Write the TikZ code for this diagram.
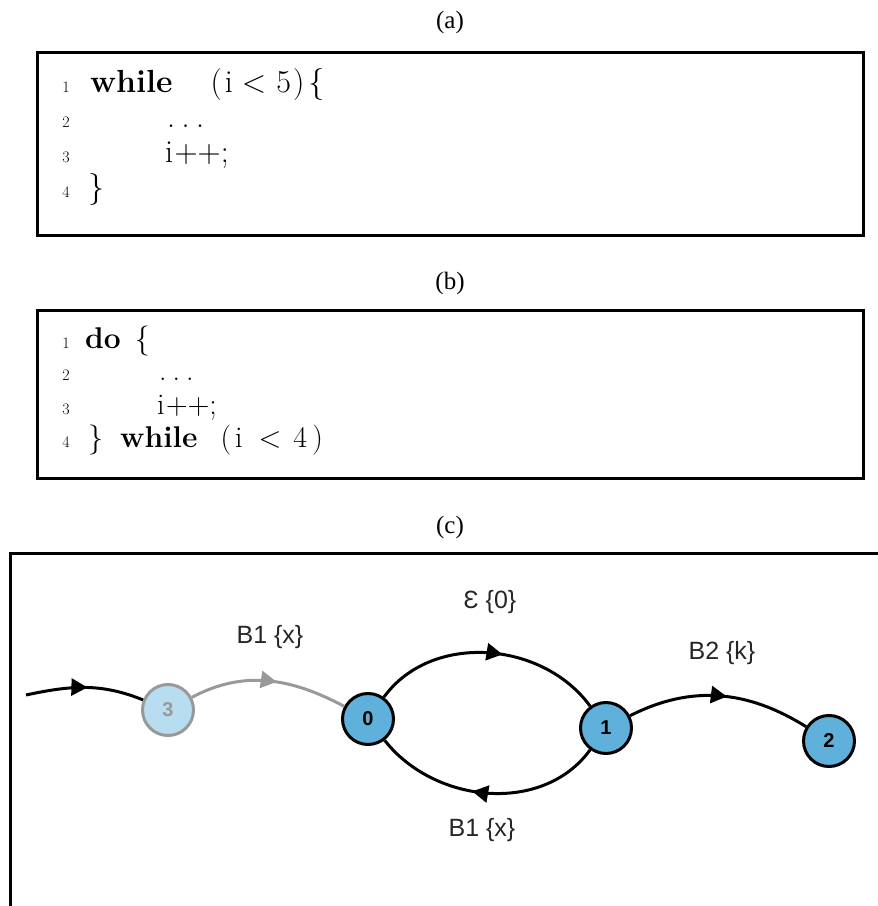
\documentclass[tikz,border=0pt]{standalone}
\usepackage{fontspec}
\newfontfamily\capfont{Liberation Serif}
\newfontfamily\lblfont{Liberation Sans}
\usetikzlibrary{arrows.meta, positioning, decorations.markings}
\definecolor{nodeblue}{HTML}{5FB0DA}
\definecolor{ghostblue}{HTML}{B8DDF0}
\definecolor{ghostgray}{HTML}{999999}

\begin{document}
\begin{tikzpicture}[x=1pt, y=1pt,
  capt/.style={font=\capfont\fontsize{25}{29}\selectfont},
  codebox/.style={draw, line width=3pt},
  codeline/.style={anchor=base west, inner sep=0pt, font=\fontsize{32}{38}\selectfont},
  codelineb/.style={anchor=base west, inner sep=0pt, font=\fontsize{30}{36}\selectfont},
  lineno/.style={anchor=base east, inner sep=0pt, font=\fontsize{16}{18}\selectfont},
  statenode/.style={circle, draw, line width=3pt, fill=nodeblue, minimum size=51pt, inner sep=0pt, font=\lblfont\bfseries\fontsize{20}{22}\selectfont},
  ghostnode/.style={statenode, draw=ghostgray, fill=ghostblue, text=ghostgray, font=\lblfont\bfseries\fontsize{20}{22}\selectfont},
  trans/.style={line width=3pt, postaction={decorate}, decoration={markings, mark=at position #1 with {\arrow{Triangle[length=16pt,width=17pt]}}}},
  trans/.default=0.5,
  lbl/.style={font=\lblfont\fontsize{25}{28}\selectfont, text=black!85}]
\useasboundingbox (0,0) rectangle (878,906);

% (a) while loop
\node[capt] (capa) at (450,884) {(a)};
\draw[codebox] (37,670) rectangle (863,853);
\node[lineno] (na1) at (70,813) {1};
\node[codeline] (ca1) at (90,813) {\textbf{while}\hspace{38pt}(\hspace{3pt}i\hspace{9pt}<\hspace{10pt}5\hspace{2pt})\hspace{4pt}\{};
\node[lineno] (na2) at (70,778) {2};
\node[codeline] (ca2) at (167,778) {.\hspace{6.5pt}.\hspace{6.5pt}.};
\node[lineno] (na3) at (70,743) {3};
\node[codeline] (ca3) at (165,743) {i\hspace{1.5pt}++;};
\node[lineno] (na4) at (70,708) {4};
\node[codeline] (ca4) at (88,708) {\}};

% (b) do-while loop
\node[capt] (capb) at (450,623) {(b)};
\draw[codebox] (37,427) rectangle (863,595);
\node[lineno] (nb1) at (70,557) {1};
\node[codelineb] (cb1) at (85,557) {\textbf{do}\hspace{14pt}\{};
\node[lineno] (nb2) at (70,525) {2};
\node[codelineb] (cb2) at (159,525) {.\hspace{6pt}.\hspace{6pt}.};
\node[lineno] (nb3) at (70,491) {3};
\node[codelineb] (cb3) at (157,491) {i\hspace{1.5pt}++;};
\node[lineno] (nb4) at (70,458) {4};
\node[codelineb] (cb4) at (88,458) {\}\hspace{17pt}\textbf{while}\hspace{23pt}(\hspace{4pt}i\hspace{16pt}<\hspace{12pt}4\hspace{5pt})};

% (c) graph
\node[capt] (capc) at (450,379) {(c)};
\draw[codebox] (10,-5) |- (885,352);

\node[ghostnode] (n3) at (168,196) {3};
\node[statenode] (n0) at (368,187) {0};
\node[statenode] (n1) at (606,178) {1};
\node[statenode] (n2) at (829,165) {2};
\coordinate (entry) at (26,211);

\draw[trans=0.52] (entry) to[out=12, in=158] (n3);
\draw[trans=0.55, color=ghostgray] (n3) to[out=28, in=152] (n0);
\draw[trans=0.56] (n0) to[out=54, in=126] (n1);
\draw[trans=0.56] (n1) to[out=234, in=-52] (n0);
\draw[trans=0.54] (n1) to[out=27, in=148] (n2);

\node[lbl] (l30) at (270,269) {B1 \{x\}};
\node[lbl] (l01) at (490,304) {Ɛ \{0\}};
\node[lbl] (l10) at (482,76) {B1 \{x\}};
\node[lbl] (l12) at (722,253) {B2 \{k\}};
\end{tikzpicture}
\end{document}
